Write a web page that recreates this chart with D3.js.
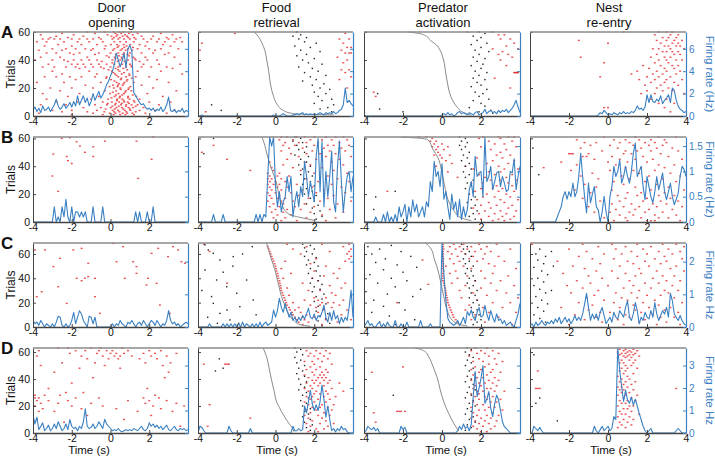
<!DOCTYPE html>
<html><head><meta charset="utf-8">
<script src="https://cdn.jsdelivr.net/npm/d3@7"></script>
<style>body{margin:0;background:#fff}svg{display:block;font-family:"Liberation Sans",Arial,Helvetica,sans-serif}</style>
</head><body><svg id="c" width="715" height="457"></svg>
<script>
// ---------------- DATA ----------------
const colTitles = [["Door","opening"],["Food","retrieval"],["Predator","activation"],["Nest","re-entry"]];
const rowLetters = ["A","B","C","D"];
const trialMax = [60, 61, 69, 63];
const rateMax = [7.5, 1.68, 2.57, 3.78];
const trialTicks = [0, 20, 40, 60];
const rateTicks = [[0,2,4,6],[0,0.5,1,1.5],[0,1,2],[0,1,2,3]];
const rateTickLabels = [["0","2","4","6"],["0","0.5","1","1.5"],["0","1","2"],["0","1","2","3"]];
const rateTitles = ["Firing rate (Hz)","Firing rate (Hz)","Firing rate Hz","Firing rate Hz"];
const timeTicks = [-4, -2, 0, 2, 4];
const timeTitle = "Time (s)";
const trialTitle = "Trials";
const binStart = -4, binWidth = 0.1;

// firing rates (Hz), bins from -4 s to 4 s every 0.1 s
const rateA1 = [0.5,0.8,0.4,0.7,0.3,0.9,0.5,0.6,0.8,0.4,0.7, 1.0,1.5,0.9,0.6,0.8,1.1,0.7,0.9,1.2,0.8, 1.3,0.9,1.8,1.0,1.4,1.8,1.2,1.6,0.9,1.3, 2.0,1.4,1.8,2.2,1.6,1.9,2.3,2.8,3.1,3.6, 4.0,4.6,5.6,5.0,4.4,4.9,5.6,4.3,6.0,6.3, 5.8,2.1,1.8,1.5,1.2,1.0,1.1,0.8,0.6,0.7, 0.5,0.7,0.4,0.6,0.5,0.8,0.4,0.6,1.0,1.7, 0.5,0.4,0.6,0.3,0.5,0.4,0.7,0.3,0.5,0.4];
const rateA2 = [0,0,0.1,0,0,0,0,0,0,0,0, 0,0,0,0,0,0,0,0,0,0, 0,0,0,0,0,0,0,0,0,0, 0,0,0,0,0,0,0,0,0.1,0, 0,0,0.1,0.2,0.1,0,0,0,0.1,0.1, 0.2,0.1,0.2,0.3,0.1,0.2,0.1,0.2,0.1,0.2, 0.1,0.2,0.3,0.2,0.1,0.3,0.2,0.3,0.2,0.4, 0.2,0.3,0.5,0.6,1.0,2.5,1.2,1.4,1.1,0.9];
const rateA3 = [0.1,0,0,0,0,0,0,0,0,0,0, 0,0,0,0,0,0,0,0,0,0, 0,0,0,0,0,0,0,0,0,0, 0,0,0,0,0,0,0,0,0,0.1, 0.2,0.1,0.3,0.1,0.2,0,0.1,0.3,0.4,0.2, 0.3,0.2,0.1,0.3,0.2,0.1,0.3,0.4,0.1,0.2, 0.3,0.6,0.2,0.4,0.5,0.3,0.4,0.2,0.5,0.3, 0.5,0.4,0.6,0.3,0.5,0.7,1.0,1.4,0.8,0.3];
const rateA4 = [0,0,0,0,0,0,0,0,0,0,0, 0,0,0,0,0,0,0,0,0,0, 0,0,0,0,0,0,0,0,0,0, 0,0,0,0,0.1,0.3,0.2,0.5,0.3,0.1, 0.2,0.1,0.3,0.2,0.1,0.3,0.2,0.4,0.2,0.3, 0.2,0.4,0.3,0.5,0.9,0.6,0.7,0.5,0.8,1.9, 1.2,1.9,1.3,1.2,1.5,1.3,1.8,1.1,1.4,1.6, 1.9,1.2,2.5,2.3,1.4,0.9,0.6,0.5,0.3,0.4];
const rateB1 = [0,0,0,0,0,0,0,0,0,0,0, 0.3,0,0.1,0,0.3,0.1,0.45,0.1,0,0.3, 0,0.2,0.2,0.1,0.2,0.1,0.2,0,0,0, 0.3,0,0,0,0,0.3,0,0,0,0, 0,0,0,0,0,0,0,0,0,0, 0,0,0.2,0,0.2,0,0,0,0.2,0, 0,0.3,0,0,0,0,0,0,0,0, 0,0,0,0,0,0,0,0,0,0];
const rateB2 = [0,0,0,0,0,0,0,0,0.15,0,0, 0,0,0.15,0,0,0,0,0,0,0, 0,0,0,0,0,0,0,0,0,0.15, 0,0.15,0,0.15,0.1,0.9,1.68,1.5,1.68,0.7, 0.3,0.6,0.2,0.4,0.5,0.9,0.6,0.9,0.1,0.4, 0.6,0.3,0.7,0.5,1.2,0.9,0.5,0.8,0.6,0.4, 1.3,1.65,0.6,1.6,0.3,1.0,0.5,0.9,1.4,0.4, 0.2,1.1,1.6,0.8,0.2,0.6,0.9,1.0,0.6,0.9];
const rateB3 = [0,0,0,0,0,0,0.1,0,0,0,0.15, 0,0.2,0,0.1,0,0.15,0,0.3,0.1,0.2, 0.35,0,0.3,0.1,0.44,0.2,0.35,0.1,0.2,0.3, 0.1,0.4,0.3,0.8,0.6,1.2,0.9,1.0,0.7,1.15, 0.45,0.6,0.3,0.05,0.55,0.25,0.4,0.1,0.45,0.05, 0.3,0.1,0.25,0.64,0.8,0.5,1.3,0.9,0.97,1.0, 0.5,1.68,0.8,0.9,1.1,0.64,0.8,0.97,1.0,0.7, 0.9,0.77,0.6,0.64,1.0,0.97,1.25,0.64,0.9,1.1];
const rateB4 = [0,0,0,0,0,0,0,0,0,0,0, 0,0,0,0.1,0.2,0.3,0.5,0.6,0.45,0.6, 0.5,0.77,0.5,0.6,0.9,1.36,0.9,0.5,0.18,0.77, 0.38,0.55,0.7,0.3,0.24,0,0.2,0.51,0.2,0, 0.5,0.7,1.1,0.9,1.0,1.23,0.77,0.9,1.1,0.9, 0.77,1.0,1.36,1.56,0.9,1.0,1.1,0.7,0.44,0.9, 0.7,0.5,0.38,0.6,0.9,0.64,0.8,0.97,0.6,0.44, 0.6,0.77,0.5,0.34,0.45,0.57,0.9,1.1,1.04,0.9];
const rateC1 = [0.2,0.1,0.15,0.05,0.2,0.1,0,0.1,0.05,0,0.1, 0,0.15,0.33,0.3,0.05,0,0.1,0,0.05,0.2, 0.45,0.1,0.3,0.5,0.4,0.2,0.1,0,0.33,0.3, 0.1,0.3,0,0,0,0,0,0,0,0, 0.1,0,0.1,0.05,0.2,0.1,0.05,0,0.15,0.1, 0.2,0.1,0,0.1,0.15,0.05,0.2,0.1,0,0.1, 0.2,0.15,0.05,0.2,0.1,0,0.1,0.05,0.2,0.5, 0.2,0.1,0.15,0.05,0.1,0,0.05,0.1,0.15,0.1];
const rateC2 = [0,0,0,0,0,0,0.1,0,0,0,0, 0,0,0.1,0,0.1,0,0.1,0,0.1,0, 0.1,0,0.15,0,0.1,0.05,0,0.1,0,0.1, 0,0.15,0,0.1,0.15,0.05,0.1,0.15,0.52,0.3, 0.5,0.88,0.6,0.45,0.72,0.5,0.3,0.45,0.2,0.3, 0.15,0.3,0.2,0.35,0.25,0.4,0.57,0.3,0.25,0.4, 0.2,0.35,0.3,0.45,0.67,0.3,0.15,0.45,0.2,0.5, 0.25,0.35,0.1,0.3,0.15,0.3,0.2,0.6,1.13,0.3];
const rateC3 = [0,0.1,0.2,0.05,0.1,0,0,0.1,0.15,0,0.1, 0,0.15,0.05,0,0,0.2,0,0,0.1,0, 0,0.15,0,0,0,0,0,0,0.2,0, 0,0,0,0.1,0,0,0,0,0,2.57, 1.6,0.8,0.26,0.15,0.1,0.05,0.1,0.2,0.05,0.15, 0.3,0.1,0.47,0.35,0.52,0.3,0.2,0.45,0.6,0.3, 0.35,0.66,0.4,0.2,0.5,0.3,0.15,0.4,0.2,0.25, 0.1,0.2,0.05,0.1,0.15,0.05,0,0.2,0.4,0.72];
const rateC4 = [0.05,0.1,0,0.15,0.05,0.1,0.2,0.1,0.05,0.15,0.1, 0.2,0.1,0.25,0.15,0.3,0.1,0.2,0.3,0.15,0.25, 0.1,0.2,0.35,0.2,0.3,0.2,0.4,0.7,1.03,0.6, 0.2,0.4,0.25,0.4,0.2,0.45,0.6,0.35,0.1,0.2, 0.3,0.15,0.45,0.3,0.25,0.5,0.4,0.3,0.6,0.8, 0.3,0.2,0.4,0.75,0.5,0.1,0.3,0.2,0.45,0.3, 0.25,0.5,0.3,0.75,0.4,0.2,0.35,0.5,0.4,0.6, 0.3,1.03,0.8,0.4,0.3,0.2,0.35,0.2,0.1,0.05];
const rateD1 = [0.8,0.4,0.7,0.15,0.3,0.45,0.1,0.2,0.35,0.1,0.2, 0.4,0.2,0.5,0.3,0.1,0.2,0.4,0.15,0.6,0.3, 0.2,0.25,0.1,0.3,0.2,0.5,1.08,0.3,0.2,0.25, 0.4,0.2,0.3,0.5,0.35,0.2,0.61,0.4,0.3,0.2, 0.1,0.15,0.1,0.2,0.1,0.05,0.1,0.15,0.1,0.15, 0.1,0.2,0.15,0.1,0.2,0.3,0.15,0.1,0.2,0.45, 0.3,0.4,0.25,0.35,0.2,0.3,0.15,0.25,0.35,0.15, 0.1,0.2,0.3,0.15,0.1,0.2,0.15,0.2,0.1,0.15];
const rateD2 = [0,0.3,0.25,0.1,0,0,0,0,0,0,0, 0,0,0,0,0,0.3,0.1,0,0,0, 0,0,0,0,0,0,0.2,0,0,0, 0,0,0,0,0,0,0,0,0,0, 0,0,0,0,0,0,0,0,0.3,0.1, 0.1,0.2,0.1,0.15,1.2,0.9,1.4,1.9,1.3,1.0, 1.25,1.0,1.4,2.13,1.5,0.7,1.2,0.6,0.1,0.2, 0.05,0.2,0.1,0.3,0.15,0.2,0.05,0,0,0];
const rateD3 = [0,0.1,0.3,0.2,0.15,0.25,0.1,0.2,0,0,0, 0,0,0,0,0,0,0,0,0.3,0.15, 0.25,0,0,0,0,0,0,0,0,0, 0,0,0,0,0,0,0,0,0,0, 0,0,0,0,0,0,0,0.1,0.3,0.15, 0.4,0.2,0.3,0.1,0.4,1.6,2.73,1.62,2.0,2.43, 3.0,1.32,1.5,1.84,1.1,0.73,1.3,1.69,1.47,1.0, 0.5,0.28,0.2,0.1,0,0,0,0,0,0];
const rateD4 = [0,0,0.3,0.2,0.1,0.25,0.1,0,0,0,0, 0,0,0,0,0,0,0,0,0,0, 0,0,0,0,0,0,0,0,0,0, 0,0,0.3,0.1,0,0.15,0.3,0.1,0.2,0.3, 0.1,0.2,0.73,0.6,3.78,2.8,2.06,1.4,1.91,1.47, 1.32,1.6,1.24,1.5,1.2,0.87,0.6,0.3,0.1,0, 0.1,0.2,0,0,0,0,0,0,0,0, 0,0,0,0,0.1,0.2,0.1,0,0,0];

// red spike rasters: [trial, spike times (s)...]
const spikesA1 = [[60,-1.2,-0.3,0.15,0.45,0.65,1.05],[59,-2.5,-0.8,0.25,0.55,0.95,1.4,2.6],[58,-3.6,-1.9,-0.15,0.35,0.75,1.15,3.2],[57,-2.8,-1.4,0.05,0.3,0.62,0.85,1.6,2.2],[56,-3.1,-2.2,-0.6,0.18,0.48,0.92,1.22,2.9,3.6],[55,-3.5,-3.2,-2.9,-2.6,-2.0,-1.6,-1.2,-0.9,-0.5,0.1,0.4,0.7,1.0,1.3,1.7,2.1,2.5,3.0,3.4],[53,-3.8,-3.3,-2.4,-1.7,-1.1,-0.4,0.2,0.5,0.8,1.2,1.9,2.4,2.8,3.3,3.7],[51,-2.7,-1.5,-0.7,0.02,0.33,0.68,1.02,1.5,2.7],[50,-3.4,-2.0,-0.25,0.42,0.83,1.8,3.1],[49,0.36,0.71,1.16],[48,-3.0,-2.3,-1.8,-1.3,-0.9,-0.3,0.2,0.6,0.9,1.4,2.0,2.6,3.5],[47,-3.7,-2.5,-1.0,0.12,0.52,0.78,1.12,2.3],[45,-3.3,-2.8,-2.1,-1.6,-0.6,0.0,0.4,0.7,1.0,1.6,2.2,3.0],[44,-1.9,-0.8,0.28,0.64,0.88,2.8],[43,-0.2,0.43,0.96],[42,-3.6,-2.6,-1.2,-0.08,0.22,0.57,1.18,1.8,3.3],[41,0.26,0.6,1.25],[40,-3.9,-3.0,-2.4,-1.9,-1.5,-1.1,-0.7,0.1,0.5,0.9,1.3,1.9,2.4],[39,-2.2,-0.45,0.37,0.73,1.5],[38,0.09,0.81],[37,-3.2,-2.0,-1.7,-1.4,-1.0,-0.6,-0.2,0.2,0.6,1.0,1.7,2.5,3.6],[36,0.48,1.07],[35,-3.5,-2.9,-2.3,-1.8,-1.3,-0.9,-0.5,0.0,0.4,0.8,1.1,1.6,2.1,2.9],[34,-1.6,-0.35,0.27,0.66,3.2],[33,-0.1,0.39,0.86],[32,-3.0,-1.1,0.08,0.47,1.4,2.6],[31,0.14,0.7],[30,-2.5,-0.7,0.23,0.58,0.97,3.7],[29,0.31,0.98],[28,-3.4,-2.8,-2.1,-1.5,-0.8,-0.2,0.4,0.8,1.3,2.0],[27,-0.22,0.56,1.1],[26,-1.8,0.03,0.53,0.87,2.4],[25,0.2,0.84],[24,-3.8,-2.4,-0.5,0.32,0.72,1.2,3.0],[23,0.44,0.67],[22,-1.3,0.13,0.38,0.63,1.6],[21,-0.05,0.36,1.03],[20,-3.1,-2.0,-0.9,0.17,0.51,0.94,2.2],[19,0.53,0.92],[18,-2.6,-0.3,0.29,0.79,1.08,3.4],[17,0.12,0.76],[16,-3.5,-1.6,-0.02,0.41,0.69,1.9],[15,0.28,0.6,1.15],[14,-2.2,-0.6,0.21,0.49,0.91,1.33,2.7],[13,0.05,0.47,0.9],[12,-3.3,-1.0,-0.12,0.34,0.61,0.99,1.5],[11,0.33,0.68,1.2],[10,-2.8,-1.7,-0.4,0.07,0.44,0.71,0.89,1.24,2.0,3.1],[9,-0.15,0.27,0.58,0.95],[8,-3.6,-2.3,-0.8,-0.18,0.24,0.54,0.81,1.09,1.4,2.5],[7,0.1,0.43,0.8,1.3],[6,-1.4,-0.5,0.01,0.31,0.59,0.93,1.17,1.7],[5,-0.25,0.22,0.66,1.0],[4,-3.0,-2.0,-0.7,0.11,0.39,0.74,1.03,1.5,2.3,3.3],[3,-2.5,-1.2,-0.32,0.19,0.46,0.82,1.3],[2,-3.7,-0.9,-0.04,0.26,0.63,0.86,1.13,1.8,2.9],[1,-2.0,-0.4,0.16,0.5,0.77,1.21]];
const spikesA2 = [[59,-2.1,3.6],[55,3.3,3.8],[52,-3.8,3.5],[49,3.7,3.9],[47,-3.9,3.4],[45,3.6,3.8,3.9],[42,3.2],[40,3.7],[38,3.5],[33,3.4,3.8],[31,3.6],[28,3.9],[26,3.3],[20,3.7],[3,-3.6]];
const spikesA3 = [[60,-3.9,1.3,2.6],[58,2.9,3.2],[55,3.0,3.5],[52,3.7],[50,3.3],[48,2.6,3.9],[46,3.1],[44,2.9,3.4],[42,3.6],[40,3.0],[36,3.3],[31,3.7,3.75,3.8,3.85,3.9],[27,2.7],[20,3.5],[17,-3.5],[14,-3.4]];
const spikesA4 = [[60,0.8,2.6,3.0,3.3],[58,2.4,3.2,3.6],[56,2.8,3.1,3.5],[54,-1.5,2.5,3.0,3.4,3.8],[52,0.0,2.7,3.3,3.6],[50,2.9,3.1,3.5,3.7],[48,2.3,2.6,3.2,3.9],[46,2.8,3.0,3.3,3.6],[44,2.5,3.4,3.7],[42,-1.4,2.2,2.9,3.2],[40,2.6,3.0,3.5,3.8],[38,-0.2,2.4,3.1],[36,1.8,2.7,3.3,3.6],[34,2.1,2.9,3.4],[32,1.5,2.5,3.0,3.7],[30,1.2,2.3,2.8,3.5],[28,-0.4,2.0,2.6,3.2],[26,1.6,2.4,3.0,3.8],[24,2.2,2.9,3.4],[22,1.9,2.7,3.6],[20,2.5,3.1],[18,2.0,2.8,3.3],[16,1.7,2.4,3.9],[12,2.2,3.0],[9,2.6,3.4],[6,-0.2,0.0,2.9],[3,3.2]];
const spikesB1 = [[61,2.2],[60.5,-2.09],[60,-2.52],[58,-0.29,1.34],[57.6,-1.75],[54.5,-1.58],[54,-0.89],[50,-1.32],[48.7,-2.95],[47,-2.26,-0.89],[45,2.12],[44,-2.2],[42,-2.0],[33,-3.0],[31.3,1.43],[22,-2.7]];
const spikesB2 = [[61,0.3,0.6,1.1,1.5,2.0,2.6,3.1,3.5],[59,0.2,0.9,1.8,2.4,2.9,3.7],[57,0.5,1.2,1.6,2.2,3.3],[55,-3.2,0.4,1.0,2.0,2.7,3.0,3.8],[53,0.7,1.4,2.5,3.4],[51,0.3,1.9,2.8,3.6],[50,-3.8],[49,0.8,1.6,2.3,3.1],[47,1.2,2.6,3.9],[45,-2.5,0.6,2.1,3.3],[43,-0.3,1.5,2.9],[41,0.4,1.8,3.5],[39,-0.2,0.9,2.4],[37,-1.3,-0.1,1.3,3.0],[35,-0.4,0.2,2.0,3.7],[33,-0.3,0.1,0.7,2.7],[31,-0.4,-0.2,0.3,1.6,3.2],[29,-0.3,0.0,0.5,2.2,3.8],[27,-0.4,-0.1,0.2,1.1,2.9],[25,-0.3,0.1,0.6,1.9,3.4],[23,-0.2,0.3,1.4,2.5],[21,-0.4,0.0,0.8,2.1,3.6],[19,-0.3,0.2,1.2,3.0],[17,-0.2,0.1,0.5,1.7,2.7],[15,-0.4,0.3,0.9,2.3,3.9],[13,-0.1,0.4,1.5,3.2],[11,-0.3,0.2,1.0,2.0],[9,0.0,0.6,1.3,2.8],[7,-0.2,0.4,1.8,3.5],[5,0.1,0.8,2.4],[3,-0.1,0.5,1.6,3.1],[1,0.3,1.1,2.6]];
const spikesB3 = [[61,-1.2,-0.8,2.1,2.9,3.4,3.7],[60,-0.5,1.9,3.0],[58,-0.6,-0.3,2.4,3.6],[56,-0.4,0.0,2.7,3.2],[54,-0.5,-0.2,0.3,2.0,3.8],[52,-0.3,0.1,2.5,3.3],[50,-0.2,2.2,3.0],[48,-0.4,-0.1,0.4,2.8,3.5],[46,0.0,1.8,3.1],[44,0.2,2.6,3.7],[42,0.5,2.3,3.4],[40,-0.3,1.2,2.9],[38,1.6,3.2,3.9],[36,0.3,2.4,3.0],[34,1.9,2.7,3.6],[32,0.8,2.2,3.3],[30,2.5,3.0,3.8],[28,1.5,2.1,3.4],[26,2.8,3.6],[24,2.0,2.6,3.1],[22,-2.8,1.7,2.9,3.7],[20,2.3,3.3],[18,2.1,2.7,3.5],[16,1.8,3.0,3.9],[14,2.4,3.2],[12,2.0,2.8,3.6],[10,1.6,2.5,3.4],[8,2.2,3.0,3.8],[6,1.9,2.7,3.3],[4,2.4,3.1,3.7],[2,2.0,2.9,3.5],[1,2.6,3.2]];
const spikesB4 = [[61,-0.2,1.4,2.6,3.5],[59,-1.6,0.3,0.9,1.6,2.2,2.9],[57,-1.2,-0.6,0.6,1.1,1.9,2.4,3.0],[55,-0.9,0.1,1.3,2.1,2.8],[53,-1.4,0.5,1.7,2.5,3.3],[51,-0.3,0.9,1.5,2.2,3.6],[49,-2.0,-1.9,-1.8,-1.0,0.8,1.2,2.7],[47,-1.3,-1.1,0.2,1.8,3.1],[45,-0.7,0.6,1.4,2.3,3.8],[43,-2.4,0.0,1.0,2.0],[41,-1.6,0.4,2.6,3.4],[39,-3.3,0.9,1.7,2.9],[37,-1.9,0.1,1.3,2.4],[35,-0.8,1.6,3.2],[33,-1.4,0.7,2.1,3.7],[31,-0.5,1.1,2.8],[29,0.3,1.9,3.5],[27,-1.2,0.8,2.5],[25,-0.6,1.4,3.1],[23,-1.7,0.2,2.2,3.9],[21,-0.9,1.0,1.7,2.9],[19,0.5,1.5,2.6,3.4],[17,-1.3,0.9,2.0,3.2],[15,-0.4,0.6,1.8,2.7,3.6],[13,0.2,1.2,2.3,3.0],[11,-1.0,0.8,1.6,2.5,3.8],[9,0.4,1.4,2.1,3.3],[7,-0.7,0.1,1.1,1.9,2.8],[5,0.6,1.3,2.4,3.5],[3,-0.2,0.9,1.7,2.6,3.1],[1,0.3,1.0,2.0,2.2,2.4,3.7]];
const spikesC1 = [[68.7,0.14],[66,0.65,3.23],[64.6,-1.49,2.46],[63.3,-3.9,-3.38,-1.92,3.49],[60.5,2.12],[57.8,2.97],[56.4,-2.61],[53.6,0.31,1.17,3.66],[52.3,-1.15,3.84],[49.6,-2.95,1.34],[44.1,1.34],[41.4,-1.15],[40,-1.75,-1.32,-0.8,0.74,1.94],[38,-1.49],[35.9,2.38],[34.5,1.86],[33.1,-2.7],[29,-3.55],[24.9,-3.81,-0.8],[19.4,-2.26],[18,2.55],[11.2,-0.55,3.06]];
const spikesC2 = [[68,-3.7,0.6,2.4,3.8],[66,-0.4,1.6,3.5],[64,-0.35,0.9,3.9],[62,-3.4,-0.3,2.8,3.8],[60,-0.25,1.3,3.7],[58,-0.2,3.9],[56,-0.15,2.1,3.8],[54,-0.1,0.5,3.6],[52,-0.05,1.8],[50,0.0,2.6],[48,0.02,0.3,3.3],[46,0.05,2.0],[44,0.1,0.8,3.0],[42,0.12,2.5],[40,0.15,0.4,1.9,3.2],[38,0.2,2.2],[36,-2.5,0.22,1.4,3.6],[34,0.25,2.8],[32,0.28,0.6,3.4],[30,0.3,1.7,2.3],[28,0.35,2.9],[26,0.4,0.7,3.1],[24,0.45,2.0,2.6],[22,0.5,1.5,2.2,3.5],[20,0.55,0.9,2.4,2.7,3.0],[18,0.6,1.8,2.3,3.3],[16,0.7,1.2,2.1,2.9],[14,0.75,1.0,2.5,3.7],[12,0.85,1.3,2.2],[10,0.9,1.6,2.8,3.4],[8,1.0,1.4,2.0],[6,1.1,1.5,2.6,3.9],[4,1.2,1.7,3.2],[2,1.4,2.4]];
const spikesC3 = [[68,0.05,0.6,1.1,1.9,2.8],[66,0.05,0.4,0.9,1.5,2.3],[64,0.08,0.7,1.3,2.0,3.5],[62,0.05,0.3,1.0,1.7,2.5],[60,0.06,0.5,1.2,2.2],[58,0.04,0.8,1.6,2.9],[56,0.07,0.4,1.4,2.1],[55,-1.0],[54,0.05,0.9,1.8,3.2],[52,0.06,0.6,2.4],[50,0.03,0.2,1.1,2.7],[48,0.05,1.5,3.8],[46,0.08,0.7,2.0],[44,0.05,0.4,2.6],[42,0.06,1.3,3.4],[40,0.04,0.8,2.2],[38,0.05,1.7,3.0],[36,0.1,0.5,2.5],[35,-0.7],[34,0.12,1.2,3.7],[32,0.15,2.0],[30,0.18,0.9,2.8],[28,0.2,1.6,3.3],[26,0.22,2.3],[24,0.25,1.0,3.9],[22,0.28,1.8],[20,-2.3,0.3,2.6,3.5],[18,0.35,1.4],[16,0.4,2.1,3.1],[14,0.45,1.2],[12,0.5,2.4,3.8],[10,0.55,1.7],[8,0.6,2.9],[6,0.7,1.5],[4,0.8,2.2],[2,0.9,3.6]];
const spikesC4 = [[68,-3.9,-1.3,0.2,1.5,2.8,3.5],[66,-0.5,0.9,2.2,3.9],[64,-2.0,0.4,1.8,3.1],[62,-1.1,1.2,2.6,3.7],[60,-0.2,0.7,2.0,3.3],[58,-1.5,1.5,2.9],[56,-0.8,0.3,2.4,3.8],[54,-2.6,1.0,1.9,3.0],[52,-0.4,1.3,2.7],[50,-1.8,0.6,2.1,3.5],[48,-1.2,1.6,3.2],[46,-0.6,0.2,2.5,3.9],[44,-2.3,0.9,1.7],[42,-1.0,1.4,2.8,3.4],[40,-0.3,0.5,2.3],[38,-1.6,1.1,3.0,3.7],[36,-0.9,1.9,2.6],[34,-2.1,0.0,1.3,3.3],[32,-1.3,0.8,2.2],[30,-0.5,1.6,2.9,3.6],[28,-1.9,0.4,1.2,3.1],[26,-0.7,2.0,2.7],[24,-1.1,0.7,1.5,3.4],[22,-0.2,1.0,2.4],[20,-1.5,0.3,1.8,3.8],[18,-0.8,1.3,2.6],[16,-2.4,0.6,2.1,3.2],[14,-1.0,1.4,2.9],[12,-0.4,0.1,1.7,3.6],[10,-1.7,0.9,2.3],[8,-0.6,1.1,2.7,3.4],[6,-1.2,0.5,1.9],[4,-0.3,1.6,3.0],[2,-2.0,0.8,2.5,3.7]];
const spikesD1 = [[63,-2.7,-2.2,-1.0,-0.5,0.6],[61,-3.7,-1.8,-1.3,-0.6,-0.2,0.1,0.9,2.0,2.6],[59,-2.1,-0.7,0.0,0.3,0.7,1.7,2.3,3.4],[57,-3.8,-1.5,-0.4,0.2,0.5,1.1,2.1,2.9],[55,-1.2,-0.1,0.4,1.5,2.4],[52,-2.5,-0.8,1.8,3.1],[50,-3.6,-0.3,2.7],[48,-1.6,0.5],[45,-2.9,3.0],[41,-0.9,2.8],[37,-2.0],[33,-3.2,1.9],[30,-2.3,-1.4],[28,-3.9,-3.4,-2.6,2.3],[26,-3.9,-3.7,-1.8,-0.6,1.7,2.5],[24,-3.8,-3.2,-2.2,0.9,2.0,2.9],[22,-3.6,-2.7,-1.0,1.8,3.4],[20,-3.9,-2.0,-0.4,2.2,3.8],[18,-3.5,-1.5,0.3,2.6],[16,-3.7,-2.9,1.4,3.2],[13,-1.2,2.1],[10,-3.8,0.7],[8,-2.4],[5,3.6]];
const spikesD2 = [[63,1.9,2.4],[61,1.6,2.1,2.6],[59,1.8,2.3,2.8],[57,1.7,2.0,2.5],[55,2.2,2.7],[53,1.5,1.9,2.4],[51,-3.7,-2.6,-2.5,-2.4,2.0,2.9],[49,1.8,2.3],[47,1.6,2.1,2.6],[45,1.9,2.4,2.7],[43,1.5,2.0,2.3,2.5],[41,1.7,2.2,2.4,2.6],[39,1.9,2.1,2.5,2.8],[37,1.6,2.0,2.3,2.7,3.3],[35,1.8,2.2,2.5],[33,1.5,1.9,2.4,2.9],[31,1.7,2.1,2.6,3.5],[29,2.0,2.3,2.7],[27,1.6,1.9,2.5,3.1],[25,1.8,2.2,2.8],[23,1.5,2.0,2.6],[21,-3.4,1.7,2.4,3.0],[19,1.9,2.3,2.7],[17,1.6,2.1,2.9],[15,1.8,2.5],[13,1.5,2.2,2.8],[11,-1.3,1.7,2.4],[9,1.9,2.6],[7,1.6,2.3,3.0],[5,-3.5,1.8,2.7],[3,2.1,2.5],[1,1.7,2.2]];
const spikesD3 = [[63,1.7,2.3],[61,1.5,2.0,2.6],[59,1.8,2.2,2.9],[57,1.4,2.4],[55,1.9,2.7],[53,1.6,2.1,3.1],[51,2.4,2.8],[49,-2.0,1.7,2.2],[47,1.5,2.0,2.6],[45,-3.6,1.9,2.5,3.0],[43,1.6,2.3],[41,1.8,2.1,2.7],[39,1.5,2.4,2.9],[37,1.9,2.2,2.6],[35,1.7,2.0,2.8],[33,1.6,2.3,2.5],[31,1.8,2.1,2.7,3.2],[29,1.5,1.9,2.4],[27,1.7,2.2,2.6],[25,1.9,2.3,3.0],[23,1.6,2.5,2.8],[21,1.8,2.1],[19,1.5,2.4,2.7],[17,1.9,2.2,3.1],[16,-2.3,-2.2,-2.1,-1.9],[15,-3.5,1.6,2.6],[13,1.8,2.3,2.9],[11,1.5,2.0,2.5],[9,1.7,2.2,2.8],[8,-3.4],[7,1.9,2.4],[5,1.6,2.1,2.7],[3,1.8,2.5],[1,2.0,2.3]];
const spikesD4 = [[62,0.6,0.9,1.3],[61,0.8,1.1,1.5],[60,0.5,1.0,1.2],[59,0.7,0.9,1.4],[58,0.6,1.1,1.3],[57,0.8,1.0,1.6],[56,0.5,0.9,1.2],[54,0.7,1.1,1.4],[52,0.6,0.8,1.3],[50,0.9,1.2],[48,0.7,1.0,1.5],[46,-3.6,0.6,0.9],[44,0.8,1.3],[42,0.5,1.0],[40,0.7,1.1],[38,0.6,0.9,1.4],[36,0.8,1.2],[34,0.5,0.7,1.0],[33,-3.7,-3.6,-3.5,3.5],[32,0.6,0.8,1.3],[30,0.7,1.1],[28,0.5,0.9,1.5],[26,0.8,1.2],[24,0.6,1.0,1.4],[22,0.7,0.9],[20,0.5,1.1,1.3],[18,0.8,1.0],[16,0.6,1.2],[14,0.7,0.9,1.6],[12,0.5,1.1],[10,0.8,1.3],[8,0.6,1.0],[6,0.7,1.2],[4,0.5,0.9]];

// black event marks: [trial, time]
const eventsA2 = [[60,1.1],[58,1.3],[57,0.9],[56,1.6],[55,1.2],[53,1.5],[52,2.1],[50,1.0],[49,1.8],[47,1.3],[46,2.3],[44,1.6],[43,1.1],[41,2.0],[40,1.4],[38,1.7],[37,2.4],[35,1.2],[34,1.9],[32,2.2],[31,1.5],[29,2.6],[28,1.8],[26,2.1],[25,1.4],[23,2.5],[22,1.9],[20,2.3],[19,2.8],[17,2.0],[16,2.6],[14,2.2],[12,2.9],[11,2.4],[9,2.0],[8,3.0],[6,2.7],[5,2.3],[3,2.9],[8,-3.3],[4,-2.8]];
const eventsA3 = [[60,1.9],[59,2.2],[57,1.6],[56,2.0],[54,1.8],[52,2.3],[51,1.5],[49,2.0],[47,1.7],[46,2.4],[44,1.9],[42,1.6],[41,2.2],[39,1.8],[37,2.1],[36,1.5],[34,2.0],[32,1.7],[31,2.3],[29,1.9],[27,1.6],[26,2.2],[24,1.8],[22,2.0],[21,1.5],[19,2.3],[17,1.7],[16,2.1],[14,1.9],[12,2.4],[11,1.6],[9,2.0],[7,2.2],[6,1.4],[4,2.5],[3,1.9],[2,2.6],[16,-3.3],[5,-3.2],[3,-2.0]];
const eventsB2 = [[61,1.0],[60,1.3],[58,0.9],[57,1.4],[55,1.1],[54,1.6],[52,1.2],[50,1.5],[48,1.0],[47,1.7],[45,1.3],[43,1.6],[41,1.2],[40,1.8],[38,1.4],[36,1.7],[34,1.3],[33,1.9],[31,1.5],[29,1.8],[27,1.4],[26,2.0],[24,1.6],[22,1.9],[20,1.5],[19,2.1],[17,1.8],[15,2.0],[13,1.6],[12,2.2],[10,1.9],[8,2.3],[6,2.0],[4,2.4],[2,2.1],[60,-3.2],[49,-3.7]];
const eventsB3 = [[61,0.9],[60,1.2],[58,1.0],[57,1.3],[55,0.9],[54,1.2],[52,1.0],[50,1.4],[48,1.1],[46,1.3],[44,1.0],[42,1.4],[40,1.2],[38,1.5],[36,1.1],[34,1.4],[32,1.2],[30,1.6],[28,1.3],[26,1.5],[24,1.2],[22,1.6],[20,1.4],[18,1.7],[16,1.5],[14,1.3],[12,1.7],[10,1.5],[8,1.8],[6,1.6],[4,1.4],[2,1.7],[18,-3.4],[22,-2.4],[9,-3.5]];
const eventsB4 = [[53,-3.85],[34,-3.55]];
const eventsC2 = [[67.4,-3.64],[63.3,-3.47],[60.5,-3.21],[55,-2.87],[57.8,-2.18],[46.8,-3.64],[38.6,-3.04],[33.1,-2.52],[27.7,-2.0],[16.7,-1.84],[19.4,-3.21],[11.2,-2.87],[5.8,-2.35],[38.6,-1.49],[22.2,-1.15],[30,-3.8],[25,-3.3],[45,-2.7],[50,-2.2],[60,-1.7],[66,-1.2],[8,-3.5],[14,-2.5],[3,-1.9],[10,-1.0],[3,-3.0],[68,1.4],[67,1.8],[65,1.5],[64,2.0],[62,1.6],[60,1.9],[58,1.5],[57,2.1],[55,1.7],[53,2.0],[51,1.6],[50,2.2],[48,1.8],[46,2.1],[44,1.7],[42,2.3],[40,1.9],[38,2.2],[36,1.8],[35,2.4],[33,2.0],[31,2.3],[29,1.9],[27,2.5],[25,2.1],[23,2.4],[21,2.0],[19,2.6],[17,2.2],[15,2.5],[13,2.1],[11,2.7],[9,2.3],[7,2.6],[5,2.2],[3,2.8],[1,2.4]];
const eventsC3 = [[66,-3.8],[64,-3.2],[67,-2.6],[62,-2.1],[60,-3.6],[58,-1.6],[56,-2.9],[53,-3.4],[51,-2.3],[49,-1.3],[47,-3.0],[45,-2.0],[43,-3.7],[40,-2.6],[38,-1.8],[36,-3.3],[33,-2.4],[31,-1.1],[29,-3.9],[27,-2.8],[25,-1.5],[22,-3.5],[20,-2.2],[17,-3.0],[14,-1.9],[12,-3.6],[9,-2.7],[6,-1.4],[4,-3.2],[2,-2.4],[68,1.0],[66,1.3],[64,1.1],[62,1.4],[60,1.2],[58,1.5],[56,1.1],[54,1.4],[52,1.2],[50,1.6],[48,1.3],[46,1.5],[44,1.2],[42,1.6],[40,1.4],[38,1.7],[36,1.3],[34,1.6],[32,1.4],[30,1.8],[28,1.5],[26,1.7],[24,1.4],[22,1.8],[20,1.6],[18,1.9],[16,1.5],[14,1.8],[12,1.6],[10,1.9],[8,1.7],[6,2.0],[4,1.8],[2,1.6]];
const eventsC4 = [[64,-3.5],[60,-3.7],[58,-3.2],[55,-3.6],[52,-3.3],[49,-3.8],[46,-3.4],[43,-3.1],[40,-3.6],[37,-3.3],[34,-3.8],[31,-3.5],[28,-3.2],[25,-3.7],[22,-3.4],[19,-3.1],[16,-3.6],[13,-3.3],[10,-3.8],[7,-3.5],[4,-3.2],[62,-2.9],[50,-2.8],[30,-2.9]];
const eventsD2 = [[63,1.0],[62,1.3],[60,1.1],[58,1.4],[56,1.0],[54,1.3],[52,1.1],[50,1.5],[48,1.2],[46,1.4],[44,1.1],[42,1.5],[40,1.2],[38,1.6],[36,1.3],[34,1.5],[32,1.2],[30,1.6],[28,1.4],[26,1.7],[24,1.3],[22,1.6],[20,1.4],[18,1.8],[16,1.5],[14,1.7],[12,1.4],[10,1.8],[8,1.5],[6,1.9],[4,1.6],[2,1.8],[46,-3.1],[55,-2.9],[48,-2.7]];
const eventsD3 = [[63,1.3],[62,1.5],[60,1.2],[58,1.4],[56,1.6],[54,1.3],[52,1.5],[50,1.2],[48,1.6],[46,1.4],[44,1.7],[42,1.3],[40,1.5],[38,1.2],[36,1.6],[34,1.4],[32,1.7],[30,1.3],[28,1.5],[26,1.2],[24,1.6],[22,1.4],[20,1.7],[18,1.3],[16,1.5],[14,1.2],[12,1.6],[10,1.4],[8,1.7],[6,1.3],[4,1.5],[2,1.2],[28,-2.5]];
const eventsD4 = [[58,-3.8],[26,-3.5],[22,-3.7],[9,-2.6]];

// sorted onset latency curves (gray): [time, trial]
const onsetA2 = [[-1.1,60],[-0.9,57],[-0.7,52],[-0.55,47],[-0.45,40],[-0.35,32],[-0.25,22],[-0.1,14],[0.1,8],[0.4,4],[0.8,2],[1.5,1.2],[2.5,1],[3.0,0.8]];
const onsetA3 = [[-1.72,60],[-1.2,59],[-0.8,57],[-0.6,54],[-0.3,51],[-0.1,47],[0.08,40],[0.2,30],[0.33,20],[0.45,14],[0.59,10],[0.8,6],[1.03,3],[1.5,0.5]];
const onsetB2 = [[-0.7,61],[-0.55,55],[-0.45,49],[-0.3,42],[-0.1,34],[0.05,28],[0.2,18],[0.35,12],[0.5,8],[0.8,5],[1.2,3.5],[1.7,2],[2.0,1.2]];
const onsetB3 = [[-2.1,61],[-1.5,60.5],[-1.06,60],[-0.72,59],[-0.46,52],[-0.2,46],[-0.03,37.5],[0.14,25.6],[0.31,16],[0.57,8.8],[1.0,2.9],[1.5,1]];
const onsetC2 = [[-0.46,69],[-0.35,63],[-0.2,55],[-0.05,48],[0.06,41],[0.2,32],[0.31,25],[0.45,19],[0.57,14],[0.75,9],[0.91,5.8],[1.26,2],[1.8,0.5]];
const onsetC3 = [[-0.86,69],[-0.7,67],[-0.52,63],[-0.4,56],[-0.26,49.6],[-0.09,38.6],[0.09,25],[0.26,14],[0.52,5.8],[0.75,3],[1.03,1.6],[1.3,0.8]];
const onsetD2 = [[-0.63,63],[-0.55,60],[-0.46,56.5],[-0.33,48],[-0.2,39],[-0.07,31],[0.06,23],[0.2,19],[0.31,15.8],[0.45,12.5],[0.57,9.6],[0.7,7],[0.83,4.7],[0.95,1]];
const onsetD3 = [[-1.37,63],[-1.1,62],[-0.86,60.2],[-0.7,57],[-0.52,51.6],[-0.4,47],[-0.26,41.7],[-0.09,31.9],[0.09,23.2],[0.2,19],[0.34,14.6],[0.6,7.2],[0.86,1.5]];

// ---------------- LAYOUT ----------------
const rates  = [[rateA1,rateA2,rateA3,rateA4],[rateB1,rateB2,rateB3,rateB4],[rateC1,rateC2,rateC3,rateC4],[rateD1,rateD2,rateD3,rateD4]];
const spikes = [[spikesA1,spikesA2,spikesA3,spikesA4],[spikesB1,spikesB2,spikesB3,spikesB4],[spikesC1,spikesC2,spikesC3,spikesC4],[spikesD1,spikesD2,spikesD3,spikesD4]];
const events = [[[],eventsA2,eventsA3,[]],[[],eventsB2,eventsB3,eventsB4],[[],eventsC2,eventsC3,eventsC4],[[],eventsD2,eventsD3,eventsD4]];
const onsets = [[null,onsetA2,onsetA3,null],[null,onsetB2,onsetB3,null],[null,onsetC2,onsetC3,null],[null,onsetD2,onsetD3,null]];

const colBox = [[33,188],[198,353],[364,520],[530,686]];
const rowBox = [[32,116],[137,222],[243,327],[348,433]];
const timeTitleX = [89,277,446,611];
const RED="#e3262b", BLUE="#3a80c2", AX="#444", GRAY="#8a8a8a";
const FONT="Liberation Sans, Arial, sans-serif";

const svg = d3.select("#c");
const defs = svg.append("defs");

colTitles.forEach((lines,c)=>{
  const cx=(colBox[c][0]+colBox[c][1])/2+1;
  lines.forEach((s,i)=>svg.append("text").attr("x",cx).attr("y",11.5+i*15).attr("text-anchor","middle")
    .attr("font-size",13).attr("fill","#111").text(s));
});

rowLetters.forEach((L,r)=>{
  svg.append("text").attr("x",1).attr("y",rowBox[r][0]+6).attr("font-size",17).attr("font-weight","bold").attr("fill","#111").text(L);
  const yc=(rowBox[r][0]+rowBox[r][1])/2;
  svg.append("text").attr("transform",`translate(15,${yc}) rotate(-90)`).attr("text-anchor","middle").attr("font-size",12).attr("fill","#111").text(trialTitle);
  svg.append("text").attr("transform",`translate(705.5,${yc}) rotate(90)`).attr("text-anchor","middle").attr("font-size",11.5).attr("fill",BLUE).text(rateTitles[r]);
});

const toPts = rows => rows.flatMap(rw => rw.slice(1).map(t => [t, rw[0]]));

for (let r=0;r<4;r++){
  for (let c=0;c<4;c++){
    const [x0,x1]=colBox[c], [y0,y1]=rowBox[r];
    const x=d3.scaleLinear().domain([-4,4]).range([x0,x1]);
    const y=d3.scaleLinear().domain([0,trialMax[r]]).range([y1,y0]);
    const yr=d3.scaleLinear().domain([0,rateMax[r]]).range([y1,y0]);
    const id=`clip${r}${c}`;
    defs.append("clipPath").attr("id",id).append("rect").attr("x",x0).attr("y",y0-1).attr("width",x1-x0).attr("height",y1-y0+1);
    const g=svg.append("g").attr("clip-path",`url(#${id})`);

    g.selectAll("rect.sp").data(toPts(spikes[r][c])).join("rect").attr("class","sp")
      .attr("x",d=>x(d[0])-1).attr("y",d=>y(d[1])-0.7).attr("width",2).attr("height",1.4).attr("fill",RED).attr("opacity",0.8);
    g.selectAll("rect.ev").data(events[r][c]).join("rect").attr("class","ev")
      .attr("x",d=>x(d[1])-0.7).attr("y",d=>y(d[0])-0.7).attr("width",1.4).attr("height",1.4).attr("fill","#222");
    if (onsets[r][c]) {
      g.append("path").datum(onsets[r][c]).attr("fill","none").attr("stroke",GRAY).attr("stroke-width",1)
        .attr("d",d3.line().x(d=>x(d[0])).y(d=>y(d[1])).curve(d3.curveMonotoneY));
    }
    const vals=rates[r][c];
    g.append("path").datum(vals).attr("fill","none").attr("stroke",BLUE).attr("stroke-width",1.1).attr("stroke-linejoin","round")
      .attr("d",d3.line().x((d,i)=>x(binStart+i*binWidth)).y(d=>yr(d)));

    // axes
    const ax=svg.append("g");
    const left=ax.append("g").attr("transform",`translate(${x0},0)`)
      .call(d3.axisLeft(y).tickValues(trialTicks).tickSize(-3).tickSizeOuter(0).tickPadding(3).tickFormat(c===0?d3.format("d"):()=>""));
    left.select(".domain").attr("stroke",AX);
    left.selectAll(".tick line").attr("stroke",AX);
    left.selectAll("text").attr("font-size",10.5).attr("fill","#111").attr("font-family",FONT);

    const bottom=ax.append("g").attr("transform",`translate(0,${y1})`)
      .call(d3.axisBottom(x).tickValues(timeTicks).tickSize(-3).tickSizeOuter(0).tickPadding(2)
        .tickFormat(v=> (c<3 && v===4) ? "" : String(v)));
    bottom.select(".domain").attr("stroke",AX).attr("stroke-width",1.3);
    bottom.selectAll(".tick line").attr("stroke",AX);
    bottom.selectAll("text").attr("font-size",10.5).attr("fill","#111").attr("font-family",FONT);

    const right=ax.append("g").attr("transform",`translate(${x1},0)`)
      .call(d3.axisRight(yr).tickValues(rateTicks[r]).tickSize(-3).tickSizeOuter(0).tickPadding(3)
        .tickFormat((v,i)=> c===3 ? rateTickLabels[r][i] : ""));
    right.select(".domain").attr("stroke",BLUE).attr("stroke-width",1.2);
    right.selectAll(".tick line").attr("stroke",BLUE);
    right.selectAll("text").attr("font-size",10).attr("fill",BLUE).attr("font-family",FONT);

    ax.append("line").attr("x1",x0).attr("x2",x1).attr("y1",y0).attr("y2",y0).attr("stroke",GRAY).attr("stroke-width",1.5);

    if (r===3) {
      svg.append("text").attr("x",timeTitleX[c]).attr("y",453.5).attr("text-anchor","middle").attr("font-size",11.5).attr("fill","#111").text(timeTitle);
    }
  }
}
</script>
</body></html>
